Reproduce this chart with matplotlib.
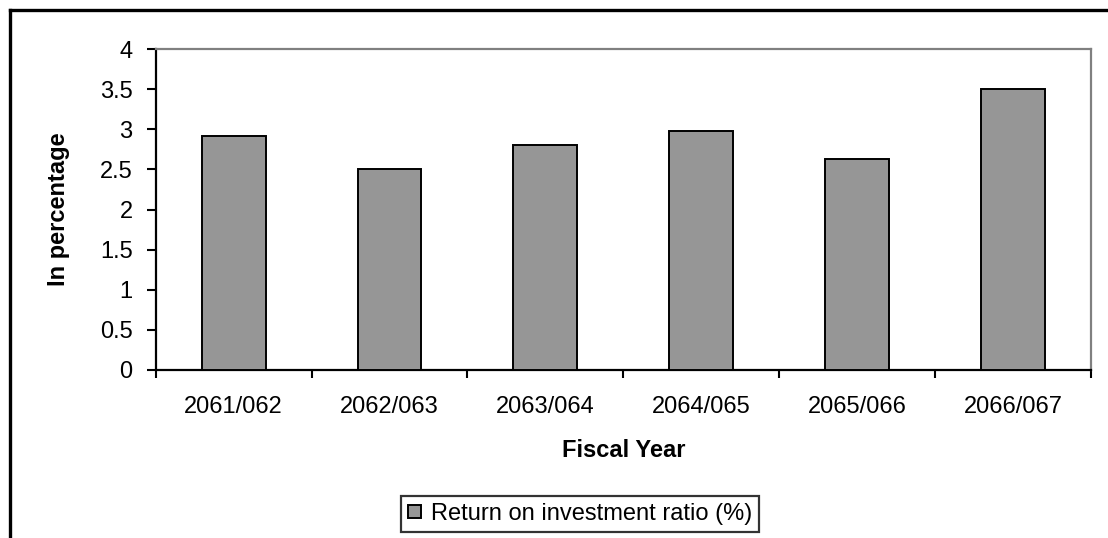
import matplotlib
matplotlib.use("Agg")
import matplotlib.pyplot as plt
from matplotlib.lines import Line2D
from matplotlib.patches import Patch

# Return on investment ratio by fiscal year
fiscal_years = ["2061/062", "2062/063", "2063/064", "2064/065", "2065/066", "2066/067"]
roi_ratio = [2.92, 2.50, 2.80, 2.98, 2.63, 3.50]
series_name = "Return on investment ratio (%)"
y_ticks = [0, 0.5, 1, 1.5, 2, 2.5, 3, 3.5, 4]
y_tick_labels = ["0", "0.5", "1", "1.5", "2", "2.5", "3", "3.5", "4"]

plt.rcParams["font.family"] = ["Liberation Sans", "DejaVu Sans"]

W, H = 1108, 538
fig = plt.figure(figsize=(W / 100, H / 100), dpi=100)
fig.patch.set_facecolor("white")

def px(x0, y0, x1, y1):
    return [x0 / W, 1 - y1 / H, (x1 - x0) / W, (y1 - y0) / H]

AX_L, AX_T, AX_R, AX_B = 155.7, 49, 1091, 370
ax = fig.add_axes(px(AX_L, AX_T, AX_R, AX_B))

positions = list(range(len(fiscal_years)))
ax.bar(positions, roi_ratio, width=0.41, color="#969696",
       edgecolor="black", linewidth=1.4, zorder=3)

ax.set_xlim(-0.5, len(fiscal_years) - 0.5)
ax.set_ylim(0, 4)

# category boundaries carry the tick marks, centres carry the labels
ax.set_xticks([p - 0.5 for p in positions] + [positions[-1] + 0.5])
ax.set_xticklabels([])
ax.set_xticks(positions, minor=True)
ax.set_xticklabels(fiscal_years, minor=True, fontsize=17)
ax.tick_params(axis="x", which="major", direction="out", length=5.5, width=1.5, color="black")
ax.tick_params(axis="x", which="minor", length=0, pad=19)

ax.set_yticks(y_ticks)
ax.set_yticklabels(y_tick_labels, fontsize=17)
ax.tick_params(axis="y", direction="out", length=6.7, width=1.5, color="black", pad=9.9)

for side in ("left", "bottom"):
    ax.spines[side].set_color("black")
    ax.spines[side].set_linewidth(1.6)
for side in ("top", "right"):
    ax.spines[side].set_color("#808080")
    ax.spines[side].set_linewidth(1.6)

ax_w, ax_h = AX_R - AX_L, AX_B - AX_T
ax.set_xlabel("Fiscal Year", fontsize=17, fontweight="bold")
ax.xaxis.set_label_coords(0.5, (AX_B - 439) / ax_h)
ax.set_ylabel("In percentage", fontsize=17, fontweight="bold")
ax.yaxis.set_label_coords((70 - AX_L) / ax_w, 0.5)

# legend box below the axis title
handle = Patch(facecolor="#969696", edgecolor="black", linewidth=1.4)
leg = fig.legend([handle], [series_name], loc="center",
                 bbox_to_anchor=(580 / W, 1 - 514 / H), fontsize=17,
                 frameon=True, fancybox=False, edgecolor="black",
                 handlelength=0.55, handleheight=0.5, handletextpad=0.42,
                 borderpad=0.3, borderaxespad=0)
leg.get_frame().set_linewidth(1.6)

# chart-area border (left and top edges fall inside the image)
fig.add_artist(Line2D([10 / W, 10 / W], [0, 1 - 10 / H], color="black", linewidth=2.4,
                      transform=fig.transFigure))
fig.add_artist(Line2D([10 / W, 1], [1 - 10 / H, 1 - 10 / H], color="black", linewidth=2.4,
                      transform=fig.transFigure))

fig.savefig("out.png", dpi=100, facecolor="white")
